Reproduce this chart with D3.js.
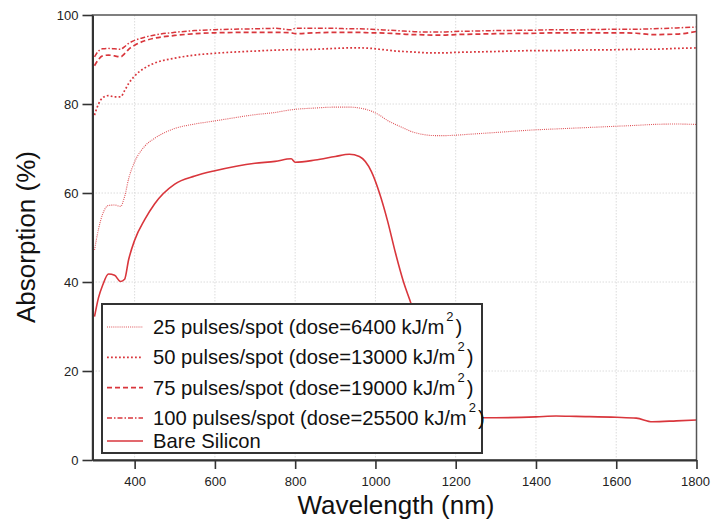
<!DOCTYPE html>
<html>
<head>
<meta charset="utf-8">
<script src="https://cdn.jsdelivr.net/npm/d3@7/dist/d3.min.js"></script>
<style>
  html, body { margin: 0; padding: 0; background: #fff; }
  svg { display: block; font-family: "Liberation Sans", Arial, Helvetica, sans-serif; }
</style>
</head>
<body>
<svg id="chart" width="711" height="521"></svg>
<script>
// Absorption spectra of laser-textured silicon (percent vs. wavelength, nm)
const wavelengths = [300, 310, 320, 335, 350, 365, 375, 385, 400, 425, 450, 500, 550, 600, 700, 750, 790, 800, 850, 900,
  935, 960, 990, 1010, 1030, 1050, 1070, 1090, 1110, 1130, 1150, 1175, 1200, 1250, 1300, 1400, 1450, 1500, 1600, 1650,
  1690, 1750, 1800];

const pulses25 = [47.2, 51.9, 55.2, 57.2, 57.3, 57.0, 59.2, 63.2, 67.0, 70.5, 72.3, 74.5, 75.5, 76.2, 77.6, 78.1, 78.7, 78.8, 79.1, 79.3,
  79.3, 79.1, 78.4, 77.5, 76.3, 75.4, 74.6, 73.8, 73.3, 73.0, 72.9, 72.9, 73.0, 73.3, 73.6, 74.2, 74.4, 74.6, 75.0, 75.2,
  75.4, 75.5, 75.4];

const pulses50 = [77.5, 80.0, 81.4, 81.9, 81.6, 81.6, 83.0, 84.6, 86.3, 88.1, 89.2, 90.3, 91.0, 91.4, 91.9, 92.1, 92.2, 92.2, 92.3, 92.5,
  92.6, 92.6, 92.5, 92.3, 92.1, 91.9, 91.8, 91.7, 91.6, 91.5, 91.5, 91.5, 91.6, 91.7, 91.8, 92.0, 92.0, 92.1, 92.2, 92.3,
  92.3, 92.5, 92.6];

const pulses75 = [88.6, 90.0, 90.8, 91.0, 90.8, 90.6, 91.3, 92.3, 93.2, 94.2, 94.8, 95.4, 95.8, 96.0, 96.1, 96.1, 96.0, 95.8, 96.0, 96.1,
  96.1, 96.1, 96.0, 96.0, 95.9, 95.8, 95.7, 95.6, 95.6, 95.5, 95.5, 95.5, 95.6, 95.7, 95.8, 95.9, 96.0, 96.0, 96.0, 95.9,
  95.6, 95.7, 96.3];

const pulses100 = [90.6, 91.9, 92.4, 92.5, 92.4, 92.3, 92.9, 93.6, 94.3, 95.0, 95.5, 96.1, 96.5, 96.7, 96.9, 97.0, 96.7, 97.0, 97.0, 97.0,
  96.9, 96.9, 96.8, 96.7, 96.6, 96.5, 96.4, 96.3, 96.2, 96.2, 96.2, 96.2, 96.3, 96.4, 96.5, 96.6, 96.7, 96.7, 96.8, 96.8,
  96.9, 97.1, 97.3];

const bareSilicon = [32.2, 36.5, 39.2, 41.8, 41.5, 40.1, 40.6, 45.0, 49.4, 54.0, 57.6, 62.0, 63.8, 65.0, 66.7, 67.1, 67.7, 66.9, 67.4, 68.2,
  68.7, 68.2, 64.8, 60.0, 53.8, 46.5, 40.0, 34.8, 28.5, 21.5, 15.5, 11.5, 10.0, 9.5, 9.5, 9.7, 9.9, 9.8, 9.6, 9.4,
  8.6, 8.8, 9.0];

const seriesLabels = [
  ["25 pulses/spot (dose=6400 kJ/m", "2", ")"],
  ["50 pulses/spot (dose=13000 kJ/m", "2", ")"],
  ["75 pulses/spot (dose=19000 kJ/m", "2", ")"],
  ["100 pulses/spot (dose=25500 kJ/m", "2", ")"],
  ["Bare Silicon", "", ""]
];

const xTicks = [400, 600, 800, 1000, 1200, 1400, 1600, 1800];
const yTicks = [0, 20, 40, 60, 80, 100];

// Line styles for each series, in legend order
const red = "#d9363c";
const styles = [
  { width: 1.1, dash: "1 1.1", opacity: 0.85 },
  { width: 1.7, dash: "1.8 2.2", opacity: 1 },
  { width: 1.7, dash: "5 3", opacity: 1 },
  { width: 1.5, dash: "5 2 1.5 2", opacity: 1 },
  { width: 1.6, dash: null, opacity: 1 }
];
const seriesValues = [pulses25, pulses50, pulses75, pulses100, bareSilicon];

const svg = d3.select("#chart");
const plotLeft = 92.5, plotRight = 696.5, plotTop = 15, plotBottom = 460;

const x = d3.scaleLinear().domain([295, 1800]).range([plotLeft, plotRight]);
const y = d3.scaleLinear().domain([0, 100]).range([plotBottom, plotTop]);

// Dotted grid
const grid = svg.append("g");
grid.selectAll("line.v").data(xTicks.filter(t => t < 1800)).join("line")
  .attr("x1", d => x(d)).attr("x2", d => x(d)).attr("y1", plotTop).attr("y2", plotBottom)
  .attr("stroke", "#dcdcdc").attr("stroke-width", 1).attr("stroke-dasharray", "1.5 1.5");
grid.selectAll("line.h").data(yTicks.filter(t => t > 0 && t < 100)).join("line")
  .attr("x1", plotLeft).attr("x2", plotRight).attr("y1", d => y(d)).attr("y2", d => y(d))
  .attr("stroke", "#dcdcdc").attr("stroke-width", 1).attr("stroke-dasharray", "1.5 1.5");

// Curves, clipped to the plot area
svg.append("clipPath").attr("id", "plotClip")
  .append("rect").attr("x", plotLeft).attr("y", plotTop - 2)
  .attr("width", plotRight - plotLeft).attr("height", plotBottom - plotTop + 2);

const line = d3.line()
  .x((d, i) => x(wavelengths[i]))
  .y(d => y(d))
  .curve(d3.curveMonotoneX);

const curves = svg.append("g").attr("clip-path", "url(#plotClip)");
seriesValues.forEach((vals, i) => {
  const s = styles[i];
  curves.append("path")
    .attr("d", line(vals))
    .attr("fill", "none")
    .attr("stroke", red)
    .attr("stroke-width", s.width)
    .attr("stroke-opacity", s.opacity)
    .attr("stroke-dasharray", s.dash);
});

// Frame
svg.append("rect")
  .attr("x", plotLeft).attr("y", plotTop).attr("width", plotRight - plotLeft).attr("height", plotBottom - plotTop)
  .attr("fill", "none").attr("stroke", "#555").attr("stroke-width", 1.5);

// Axes
const yAxis = svg.append("g").attr("transform", `translate(${plotLeft},0)`)
  .call(d3.axisLeft(y).tickValues(yTicks).tickFormat(d3.format("d"))
    .tickSizeInner(10).tickSizeOuter(0).tickPadding(4));
const xAxis = svg.append("g").attr("transform", `translate(0,${plotBottom})`)
  .call(d3.axisBottom(x).tickValues(xTicks).tickFormat(d3.format("d"))
    .tickSizeInner(9).tickSizeOuter(0).tickPadding(8));

[yAxis, xAxis].forEach(g => {
  g.select(".domain").attr("stroke", "#333").attr("stroke-width", 2);
  g.selectAll(".tick line").attr("stroke", "#333").attr("stroke-width", 1.6);
  g.selectAll(".tick text").attr("fill", "#222").attr("font-size", 13)
    .attr("font-family", "\"Liberation Sans\", Arial, sans-serif");
});
// keep the last wavelength label inside the page
xAxis.selectAll(".tick text").filter(d => d === 1800).attr("dx", -1.5);

// Axis titles
svg.append("text")
  .attr("transform", "translate(35,237) rotate(-90)")
  .attr("text-anchor", "middle")
  .attr("font-size", 26)
  .attr("fill", "#111")
  .text("Absorption (%)");

svg.append("text")
  .attr("x", 396).attr("y", 514)
  .attr("text-anchor", "middle")
  .attr("font-size", 26)
  .attr("fill", "#111")
  .text("Wavelength (nm)");

// Legend
const legend = svg.append("g");
legend.append("rect")
  .attr("x", 102).attr("y", 304).attr("width", 380).attr("height", 149)
  .attr("fill", "#fff").attr("stroke", "#333").attr("stroke-width", 2);

const rowY = i => (i < 4 ? 327 + i * 30.3 : 441);
seriesLabels.forEach((lab, i) => {
  const s = styles[i];
  const cy = rowY(i);
  legend.append("line")
    .attr("x1", 107).attr("x2", 143).attr("y1", cy).attr("y2", cy)
    .attr("stroke", red).attr("stroke-width", s.width)
    .attr("stroke-opacity", s.opacity)
    .attr("stroke-dasharray", s.dash);
  const t = legend.append("text")
    .attr("x", 153).attr("y", cy + 7)
    .attr("font-size", 20.2).attr("fill", "#111");
  t.append("tspan").text(lab[0]);
  if (lab[1]) {
    t.append("tspan").attr("dy", -13).attr("dx", 2).attr("font-size", 13).text(lab[1]);
    t.append("tspan").attr("dy", 13).attr("dx", 2).text(lab[2]);
  }
});
</script>
</body>
</html>
